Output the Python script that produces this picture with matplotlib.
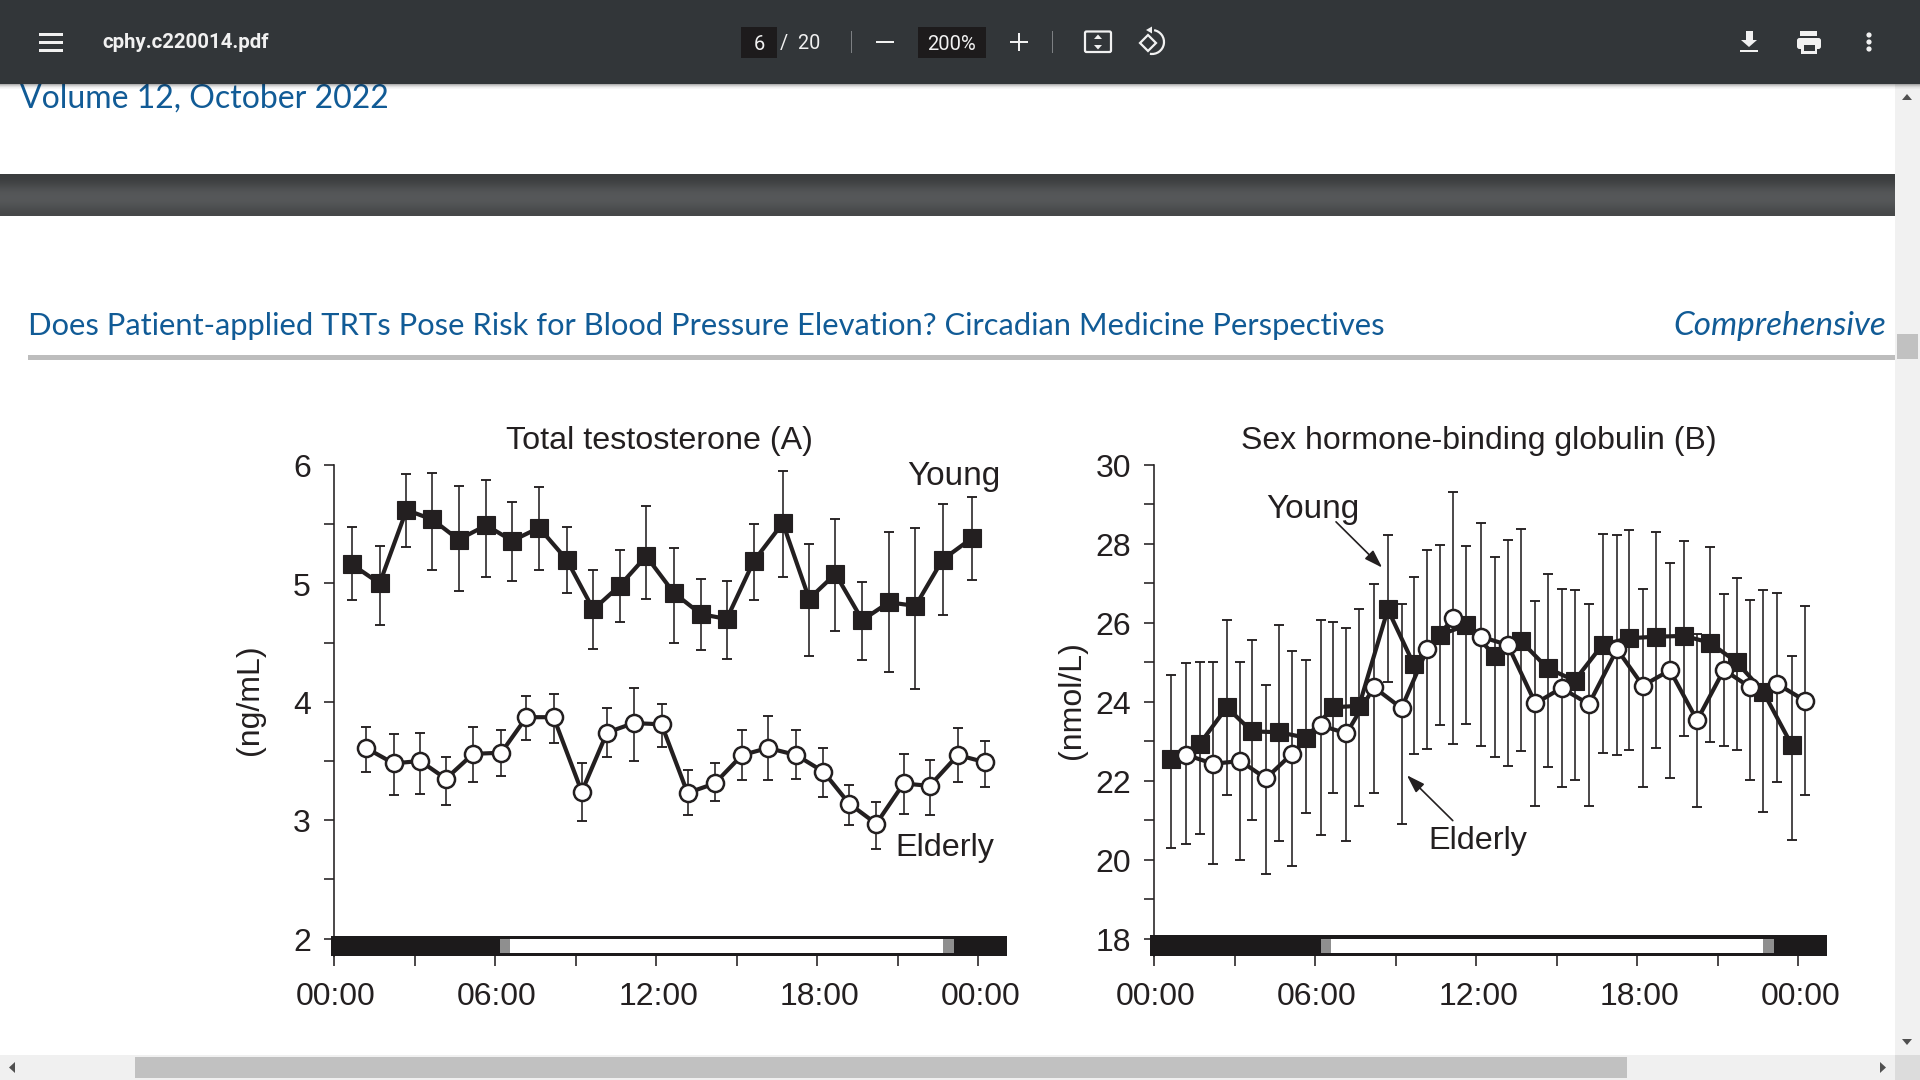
import numpy as np
import matplotlib
matplotlib.use("Agg")
import matplotlib.pyplot as plt
from matplotlib.patches import Rectangle, Circle, Polygon, FancyBboxPatch, Arc
from matplotlib.transforms import ScaledTranslation

# ---------- Data: panel A, total testosterone (ng/mL) ----------
a_young_hours = [0.67, 1.70, 2.70, 3.66, 4.64, 5.67, 6.64, 7.64, 8.67, 9.66, 10.64, 11.63,
                 12.66, 13.67, 14.63, 15.64, 16.72, 17.70, 18.68, 19.68, 20.67, 21.66, 22.67, 23.75]
a_young_mean = [5.16, 5.00, 5.62, 5.54, 5.37, 5.49, 5.36, 5.47, 5.20, 4.78, 4.98, 5.23,
                4.92, 4.74, 4.70, 5.19, 5.51, 4.87, 5.08, 4.69, 4.84, 4.81, 5.20, 5.38]
a_young_upper = [5.48, 5.32, 5.92, 5.93, 5.82, 5.87, 5.69, 5.81, 5.48, 5.11, 5.28, 5.65,
                 5.30, 5.04, 5.02, 5.50, 5.95, 5.33, 5.54, 5.01, 5.43, 5.47, 5.67, 5.73]
a_young_lower = [4.86, 4.65, 5.31, 5.11, 4.94, 5.05, 5.02, 5.11, 4.92, 4.45, 4.67, 4.87,
                 4.50, 4.44, 4.36, 4.86, 5.05, 4.39, 4.60, 4.35, 4.25, 4.11, 4.73, 5.03]
a_elderly_hours = [1.19, 2.22, 3.21, 4.17, 5.18, 6.23, 7.17, 8.18, 9.23, 10.17, 11.16, 12.20,
                   13.17, 14.18, 15.20, 16.17, 17.22, 18.23, 19.19, 20.20, 21.22, 22.19, 23.24, 24.25]
a_elderly_mean = [3.61, 3.48, 3.50, 3.35, 3.56, 3.57, 3.87, 3.87, 3.24, 3.74, 3.82, 3.81,
                  3.23, 3.31, 3.55, 3.61, 3.55, 3.41, 3.14, 2.97, 3.31, 3.29, 3.55, 3.49]
a_elderly_upper = [3.79, 3.73, 3.74, 3.53, 3.79, 3.76, 4.05, 4.07, 3.48, 3.95, 4.12, 3.98,
                   3.42, 3.48, 3.76, 3.88, 3.76, 3.61, 3.30, 3.15, 3.56, 3.51, 3.78, 3.67]
a_elderly_lower = [3.41, 3.21, 3.22, 3.13, 3.32, 3.37, 3.68, 3.65, 2.99, 3.53, 3.50, 3.62,
                   3.04, 3.16, 3.34, 3.34, 3.35, 3.20, 2.96, 2.76, 3.05, 3.04, 3.32, 3.28]

# ---------- Data: panel B, sex hormone-binding globulin (nmol/L) ----------
b_young_hours = [0.64, 1.70, 2.71, 3.65, 4.64, 5.67, 6.67, 7.64, 8.71, 9.67, 10.66, 11.64,
                 12.69, 13.68, 14.66, 15.67, 16.71, 17.70, 18.69, 19.75, 20.70, 21.70, 22.69, 23.76]
b_young_mean = [22.55, 22.93, 23.86, 23.25, 23.23, 23.09, 23.86, 23.90, 26.34, 24.96, 25.70, 25.94,
                25.17, 25.53, 24.85, 24.54, 25.45, 25.61, 25.65, 25.67, 25.50, 25.01, 24.26, 22.90]
b_young_upper = [24.69, 25.00, 26.08, 25.57, 25.95, 25.05, 26.03, 26.35, 28.23, 27.15, 27.98, 27.96,
                 27.68, 28.38, 27.24, 26.83, 28.25, 28.35, 28.29, 28.07, 27.91, 27.13, 26.83, 25.15]
b_young_lower = [20.29, 20.65, 21.64, 21.00, 20.47, 21.18, 21.69, 21.37, 24.51, 22.68, 23.41, 23.44,
                 22.61, 22.75, 22.34, 22.02, 22.71, 22.79, 22.83, 23.13, 22.98, 22.78, 21.22, 20.51]
b_elderly_hours = [1.19, 2.20, 3.22, 4.17, 5.15, 6.22, 7.17, 8.19, 9.22, 10.18, 11.15, 12.18,
                   13.18, 14.21, 15.18, 16.20, 17.25, 18.21, 19.22, 20.23, 21.23, 22.20, 23.22, 24.25]
b_elderly_mean = [22.66, 22.43, 22.50, 22.06, 22.69, 23.40, 23.20, 24.37, 23.84, 25.34, 26.12, 25.65,
                  25.44, 23.96, 24.35, 23.94, 25.33, 24.41, 24.80, 23.53, 24.81, 24.37, 24.45, 24.03]
b_elderly_upper = [24.99, 25.00, 25.02, 24.43, 25.28, 26.08, 25.87, 26.99, 26.47, 27.85, 29.32, 28.52,
                   28.10, 26.55, 26.87, 26.47, 28.22, 26.86, 27.52, 25.72, 26.73, 26.58, 26.76, 26.43]
b_elderly_lower = [20.39, 19.88, 20.00, 19.64, 19.85, 20.63, 20.47, 21.69, 20.91, 22.80, 22.94, 22.87,
                   22.37, 21.35, 21.84, 21.37, 22.64, 21.84, 22.06, 21.33, 22.89, 22.03, 21.97, 21.64]

x_tick_hours = [0, 6, 12, 18, 24]
x_tick_labels = ["00:00", "06:00", "12:00", "18:00", "00:00"]
x_minor_hours = [3, 9, 15, 21]
a_y_ticks = [2, 3, 4, 5, 6]
a_y_minor = [2.5, 3.5, 4.5, 5.5]
b_y_ticks = [18, 20, 22, 24, 26, 28, 30]
b_y_minor = [19, 21, 23, 25, 27, 29]

INK = "#231f20"
BLUE = "#115b96"
SANS = "Liberation Sans"
W, H = 1920, 1080

fig = plt.figure(figsize=(19.2, 10.8), dpi=100, facecolor="white")

# ---------- Page and viewer chrome, in pixel coordinates ----------
bg = fig.add_axes([0, 0, 1, 1], zorder=0)
bg.set_axis_off()


def rect(x0, y0, x1, y1, color, z=2, **kw):
    bg.add_patch(Rectangle((x0, y0), x1 - x0, y1 - y0, facecolor=color, edgecolor="none", zorder=z, **kw))


def tri(points, color="#505050", z=6):
    bg.add_patch(Polygon(points, closed=True, facecolor=color, edgecolor="none", zorder=z))


def fit(x0, baseline, x1, text, **kw):
    t = bg.text(x0, baseline, text, ha="left", va="baseline", fontsize=20, **kw)
    r = fig.canvas.get_renderer()
    t.set_fontsize(20 * (x1 - x0) / t.get_window_extent(r).width)
    return t


# band with a vertical gradient
band = np.array([0x3b, 0x3e, 0x45, 0x4e, 0x54, 0x56, 0x55, 0x50, 0x4a, 0x46]) / 255.0
bg.imshow(np.stack([band, band + 0.008, band + 0.014], axis=-1)[:, None, :], extent=(0, 1895, 216, 174),
          aspect="auto", zorder=1, interpolation="bilinear")
bg.set_xlim(0, W)
bg.set_ylim(H, 0)

fit(20, 108, 388, "Volume 12, October 2022", color=BLUE, family="Lato", zorder=2)
fit(28, 335, 1384, "Does Patient-applied TRTs Pose Risk for Blood Pressure Elevation? Circadian Medicine Perspectives",
    color=BLUE, family="Lato", zorder=2)
fit(1673, 335, 1886, "Comprehensive", color=BLUE, family="Lato", style="italic", zorder=2)
rect(28, 355, 1895, 360, "#bdbdbd")

# scrollbars
rect(1895, 84, W, 1055, "#f1f1f1", z=3)
rect(1897, 334, 1918, 359, "#c1c1c1", z=4)
rect(0, 1055, 1895, H, "#f0f0f0", z=3)
rect(135, 1057, 1627, 1078, "#c1c1c1", z=4)
rect(1895, 1055, W, H, "#dcdcdc", z=3)
tri([(1902, 100), (1912, 100), (1907, 94)])
tri([(1902, 1039), (1912, 1039), (1907, 1045)])
tri([(15, 1062), (15, 1073), (9, 1067.5)])
tri([(1880, 1062), (1880, 1073), (1886, 1067.5)])

# toolbar
for i, a in enumerate([0.30, 0.20, 0.12, 0.06, 0.03]):
    rect(0, 84 + i, W, 85 + i, (0, 0, 0, a), z=7)
TB = "#323639"
rect(0, 0, W, 84, TB, z=8)
for y in (34, 42, 50):
    rect(39, y - 1.3, 63, y + 1.5, "#f1f1f1", z=9)
t = fit(102, 48, 268.5, "cphy.c220014.pdf", family="Roboto", weight="bold", color="#f1f1f1", zorder=9)
rect(741, 27, 777, 58, "#1d1b1c", z=9)
rect(918, 27, 986, 58, "#1d1b1c", z=9)
bg.text(759, 42, "6", family="Roboto", fontsize=14.5, color="#f1f1f1", ha="center", va="center_baseline", zorder=10)
bg.text(800.5, 41, "/  20", family="Roboto", fontsize=14.3, color="#f1f1f1", ha="center", va="center_baseline", zorder=10)
bg.text(952, 42, "200%", family="Roboto", fontsize=14.5, color="#f1f1f1", ha="center", va="center_baseline", zorder=10)
rect(850.5, 31, 851.8, 53, "#7d8083", z=9)
rect(1052, 31, 1053.2, 53, "#7d8083", z=9)
rect(876, 41, 894, 43.4, "#f1f1f1", z=9)
rect(1010, 41, 1028, 43.4, "#f1f1f1", z=9)
rect(1018, 33, 1020.4, 51, "#f1f1f1", z=9)
bg.add_patch(FancyBboxPatch((1085, 31.5), 26, 20.5, boxstyle="round,pad=0,rounding_size=1.5", facecolor="none",
                            edgecolor="#f1f1f1", lw=1.6, zorder=9))
tri([(1094, 39), (1102, 39), (1098, 34.5)], "#f1f1f1", 9)
tri([(1094, 45), (1102, 45), (1098, 49.5)], "#f1f1f1", 9)
bg.add_patch(Polygon([(1140, 43), (1148, 35), (1156, 43), (1148, 51)], closed=True, facecolor="none",
                     edgecolor="#f1f1f1", lw=1.6, zorder=9))
bg.add_patch(Arc((1152, 42), 24, 24, theta1=-80, theta2=100, edgecolor="#f1f1f1", lw=1.6, zorder=9))
tri([(1152, 26.5), (1152, 33.5), (1146, 30)], "#f1f1f1", 9)
tri([(1741, 40), (1757, 40), (1749, 47)], "#f1f1f1", 9)
rect(1745.5, 31, 1752.5, 41, "#f1f1f1", z=9)
rect(1740, 50, 1758, 52, "#f1f1f1", z=9)
rect(1800, 31, 1817, 36, "#f1f1f1", z=9)
bg.add_patch(FancyBboxPatch((1797, 38), 24, 11, boxstyle="round,pad=0,rounding_size=2.5", facecolor="#f1f1f1",
                            edgecolor="none", zorder=9))
rect(1801, 45, 1817, 53.5, "#f1f1f1", z=9)
rect(1803.5, 45, 1814.5, 51, TB, z=10)
for y in (35, 42, 49):
    bg.add_patch(Circle((1869, y), 2.6, facecolor="#f1f1f1", edgecolor="none", zorder=9))


# ---------- The two panels ----------
def make_axes(left, right, top, bottom):
    return fig.add_axes([left / W, 1 - bottom / H, (right - left) / W, (bottom - top) / H], zorder=5,
                        facecolor="none")


def draw_group(ax, hours, mean, upper, lower, marker, ms, face, mew, z):
    hours, mean, upper, lower = map(np.asarray, (hours, mean, upper, lower))
    ax.errorbar(hours, mean, yerr=[mean - lower, upper - mean], fmt="none", ecolor=INK, elinewidth=1.15,
                capsize=3.8, capthick=1.35, zorder=z)
    ax.plot(hours, mean, color=INK, lw=3.0, marker=marker, ms=ms, mfc=face, mec=INK, mew=mew, zorder=z + 1,
            solid_joinstyle="miter")


def style_panel(ax, y_ticks, y_minor, xlim, ylim, bar_left, gray1, white1, gray2, bar_top, inner):
    ax.set_xlim(*xlim)
    ax.set_ylim(*ylim)
    for s in ("top", "right", "bottom"):
        ax.spines[s].set_visible(False)
    ax.spines["left"].set_color(INK)
    ax.spines["left"].set_linewidth(1.15)
    ax.set_xticks(x_tick_hours, x_tick_labels)
    ax.set_xticks(x_minor_hours, minor=True)
    ax.set_yticks(y_ticks)
    ax.set_yticks(y_minor, minor=True)
    ax.tick_params(axis="both", which="both", length=7.2, width=1.15, color=INK, labelcolor=INK,
                   labelsize=23, direction="out")
    ax.tick_params(axis="x", which="major", pad=11.7)
    ax.tick_params(axis="y", which="major", pad=9.5)
    for lab in ax.get_xticklabels() + ax.get_yticklabels():
        lab.set_fontfamily(SANS)
    for lab in ax.get_xticklabels():
        lab.set_transform(lab.get_transform() + ScaledTranslation(2 / 100, 0, fig.dpi_scale_trans))
    for lab in ax.get_yticklabels():
        lab.set_transform(lab.get_transform() + ScaledTranslation(0, -0.8 / 100, fig.dpi_scale_trans))
    y0 = ylim[0]
    ax.add_patch(Rectangle((bar_left, y0), xlim[1] - bar_left, bar_top - y0, facecolor="#1c1a1b", edgecolor="none",
                           clip_on=False, zorder=6))
    ax.add_patch(Rectangle((gray1, inner[0]), white1 - gray1, inner[1] - inner[0], facecolor="#8f8f8f",
                           edgecolor="none", clip_on=False, zorder=7))
    ax.add_patch(Rectangle((white1, inner[0]), gray2 - white1, inner[1] - inner[0], facecolor="white",
                           edgecolor="none", clip_on=False, zorder=7))
    ax.add_patch(Rectangle((gray2, inner[0]), 0.39, inner[1] - inner[0], facecolor="#8f8f8f",
                           edgecolor="none", clip_on=False, zorder=7))


# Panel A
axa = make_axes(334, 1007, 465, 956)
style_panel(axa, a_y_ticks, a_y_minor, (0, 25.07), (1.853, 6), -0.12, 6.18, 6.57, 22.70, 2.026, (1.878, 2.0))
draw_group(axa, a_young_hours, a_young_mean, a_young_upper, a_young_lower, "s", 13.4, INK, 0.8, 3)
draw_group(axa, a_elderly_hours, a_elderly_mean, a_elderly_upper, a_elderly_lower, "o", 12.3, "white", 1.8, 4)
axa.text(23.09, 5.90, "Young", fontsize=24, family=SANS, color=INK, ha="center", va="center", zorder=8)
axa.text(22.74, 2.765, "Elderly", fontsize=23.3, family=SANS, color=INK, ha="center", va="center", zorder=8)

# Panel B
axb = make_axes(1154, 1827, 465, 956)
style_panel(axb, b_y_ticks, b_y_minor, (0, 25.07), (17.56, 30), -0.14, 6.22, 6.59, 22.69, 18.08, (17.635, 18.0))
draw_group(axb, b_young_hours, b_young_mean, b_young_upper, b_young_lower, "s", 13.4, INK, 0.8, 3)
draw_group(axb, b_elderly_hours, b_elderly_mean, b_elderly_upper, b_elderly_lower, "o", 12.3, "white", 1.8, 4)
axb.text(5.93, 28.87, "Young", fontsize=24, family=SANS, color=INK, ha="center", va="center", zorder=8)
axb.text(12.05, 20.48, "Elderly", fontsize=23.3, family=SANS, color=INK, ha="center", va="center", zorder=8)
arrow = dict(arrowstyle="-|>,head_length=1.1,head_width=0.36", color=INK, lw=1.2, shrinkA=0, shrinkB=0)
axb.annotate("", xy=(8.50, 27.40), xytext=(6.78, 28.56), arrowprops=arrow, zorder=8)
axb.annotate("", xy=(9.42, 22.14), xytext=(11.13, 20.99), arrowprops=arrow, zorder=8)

# Titles and axis labels
for x, text, size in ((659, "Total testosterone (A)", 23.2), (1479, "Sex hormone-binding globulin (B)", 23)):
    fig.text(x / W, 1 - 441 / H, text, fontsize=size, family=SANS, color=INK, ha="center", va="center", zorder=8)
for x, text in ((250, "(ng/mL)"), (1072, "(nmol/L)")):
    fig.text(x / W, 1 - 700 / H, text, fontsize=23, family=SANS, color=INK, rotation=90, ha="center", va="center",
             zorder=8)

fig.savefig("out.png", dpi=100, facecolor="white")
